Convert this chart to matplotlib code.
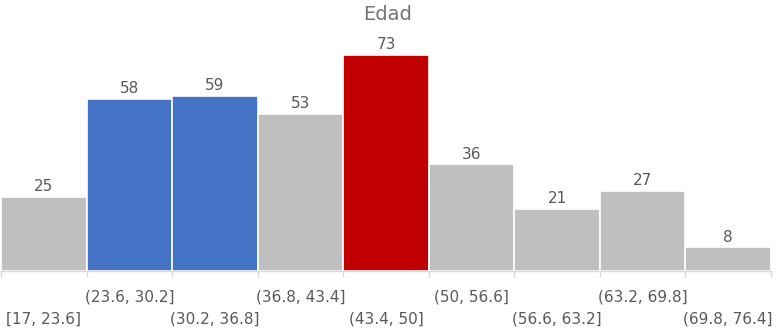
import matplotlib
matplotlib.use("Agg")
import matplotlib.pyplot as plt

categories = ["[17, 23.6]", "(23.6, 30.2]", "(30.2, 36.8]", "(36.8, 43.4]", "(43.4, 50]",
              "(50, 56.6]", "(56.6, 63.2]", "(63.2, 69.8]", "(69.8, 76.4]"]
counts = [25, 58, 59, 53, 73, 36, 21, 27, 8]
colors = ["#BFBFBF", "#4472C4", "#4472C4", "#BFBFBF", "#C00000",
          "#BFBFBF", "#BFBFBF", "#BFBFBF", "#BFBFBF"]
title = "Edad"

plt.rcParams['font.family'] = ['DejaVu Sans']
fig = plt.figure(figsize=(7.76, 3.28), dpi=100)
W, H = 776, 328
left, right = 1, 771
bottom_px, top_px = 271, 34
ax = fig.add_axes([left / W, 1 - bottom_px / H, (right - left) / W, (bottom_px - top_px) / H])

n = len(counts)
xs = list(range(n))
ax.bar(xs, counts, width=1.0, color=colors, edgecolor="white", linewidth=1.2, align="edge")
ax.set_xlim(0, n)
ax.set_ylim(0, 80)

for i, v in enumerate(counts):
    ax.annotate(str(v), (i + 0.5, v), xytext=(0, 2), textcoords="offset points",
                ha="center", va="bottom", fontsize=11, color="#595959")

for s in ["top", "right", "left"]:
    ax.spines[s].set_visible(False)
ax.spines["bottom"].set_color("#D9D9D9")
ax.spines["bottom"].set_linewidth(1)
ax.set_yticks([])
ax.set_xticks(range(n + 1))
ax.set_xticklabels([])
ax.tick_params(axis="x", length=4, color="#D9D9D9", width=1)

for i, lab in enumerate(categories):
    yoff = -25 if i % 2 == 1 else -46
    ax.annotate(lab, (i + 0.5, 0), xytext=(0, yoff * 0.75), textcoords="offset points",
                ha="center", va="center", fontsize=11, color="#595959",
                annotation_clip=False)

fig.text(0.5, 1 - 15 / H, title, ha="center", va="center", fontsize=14, color="#757575")

fig.savefig("out.png", dpi=100)
